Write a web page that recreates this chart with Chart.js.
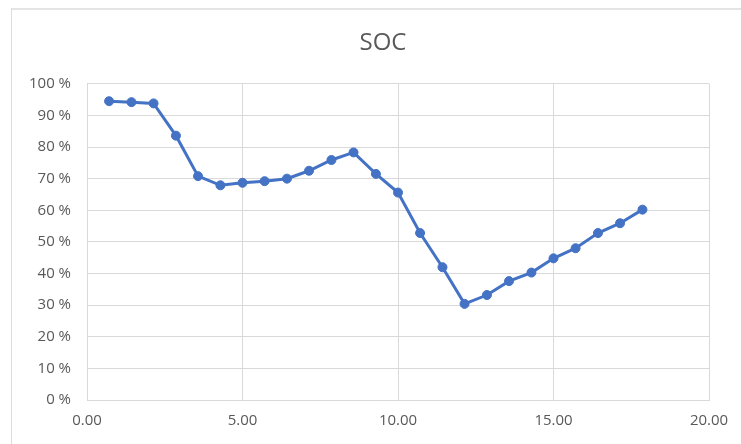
<!DOCTYPE html>
<html>
<head>
<meta charset="utf-8">
<script src="https://cdn.jsdelivr.net/npm/chart.js@4/dist/chart.umd.min.js"></script>
<style>
  html, body { margin: 0; padding: 0; background: #ffffff; overflow: hidden; }
  #wrap { position: relative; width: 741px; height: 444px; overflow: hidden; }
  #frameTop { position: absolute; left: 11px; top: 8px; width: 760px; height: 2px; background: #e4e4e4; }
  #frameLeft { position: absolute; left: 11px; top: 8px; width: 1px; height: 440px; background: #dcdcdc; }
  canvas { position: absolute; left: 0; top: 0; }
</style>
</head>
<body>
<div id="wrap">
  <div id="frameTop"></div>
  <div id="frameLeft"></div>
  <canvas id="chart" width="766" height="444"></canvas>
</div>
<script>
// Time (h) and state of charge (%)
const hours = [0.71, 1.43, 2.14, 2.86, 3.57, 4.29, 5.00, 5.71, 6.43, 7.14, 7.86, 8.57, 9.29,
               10.00, 10.71, 11.43, 12.14, 12.86, 13.57, 14.29, 15.00, 15.71, 16.43, 17.14, 17.86];
const soc = [94.5, 94.2, 93.8, 83.6, 70.8, 67.9, 68.7, 69.2, 70.0, 72.5, 75.9, 78.3, 71.5,
             65.6, 52.8, 42.0, 30.4, 33.2, 37.6, 40.3, 44.8, 48.0, 52.8, 55.9, 60.2];
const xTicks = [0, 5, 10, 15, 20];
const yTicks = [0, 10, 20, 30, 40, 50, 60, 70, 80, 90, 100];

const points = hours.map((h, i) => ({ x: h, y: soc[i] }));

const textColor = '#595959';
const gridColor = '#d9d9d9';
const blue = '#4472c4';

new Chart(document.getElementById('chart'), {
  type: 'line',
  data: {
    datasets: [{
      label: 'SOC',
      data: points,
      borderColor: blue,
      backgroundColor: blue,
      borderWidth: 3,
      pointRadius: 4.5,
      pointBorderWidth: 1,
      pointBorderColor: blue,
      pointBackgroundColor: blue,
      tension: 0,
      fill: false
    }]
  },
  options: {
    responsive: false,
    animation: false,
    layout: { padding: { left: 0, right: 0, top: 0, bottom: 0 } },
    plugins: {
      legend: { display: false },
      tooltip: { enabled: false },
      title: {
        display: true,
        text: 'SOC',
        color: textColor,
        font: { family: 'Open Sans', size: 24, weight: 'normal' },
        padding: { top: 29, bottom: 26 }
      }
    },
    scales: {
      x: {
        type: 'linear',
        min: 0,
        max: 20,
        afterBuildTicks: s => { s.ticks = xTicks.map(v => ({ value: v })); },
        afterFit: s => { s.height = 44; },
        ticks: {
          color: textColor,
          font: { family: 'Open Sans', size: 15 },
          padding: 12,
          maxRotation: 0,
          callback: v => Number(v).toFixed(2)
        },
        grid: { color: gridColor, lineWidth: 1, drawTicks: false },
        border: { color: gridColor, width: 1 }
      },
      y: {
        type: 'linear',
        min: 0,
        max: 100,
        afterBuildTicks: s => { s.ticks = yTicks.map(v => ({ value: v })); },
        afterFit: s => { s.width = 87; },
        ticks: {
          color: textColor,
          font: { family: 'Open Sans', size: 15 },
          padding: 16,
          callback: v => v + ' %'
        },
        grid: { color: gridColor, lineWidth: 1, drawTicks: false },
        border: { color: gridColor, width: 1 }
      },
      // empty right-hand axis reserving the space to the right of the plot
      spacer: {
        type: 'linear',
        position: 'right',
        display: true,
        afterFit: s => { s.width = 57; },
        ticks: { display: false },
        grid: { display: false, drawTicks: false },
        border: { display: false }
      }
    }
  }
});
</script>
</body>
</html>
